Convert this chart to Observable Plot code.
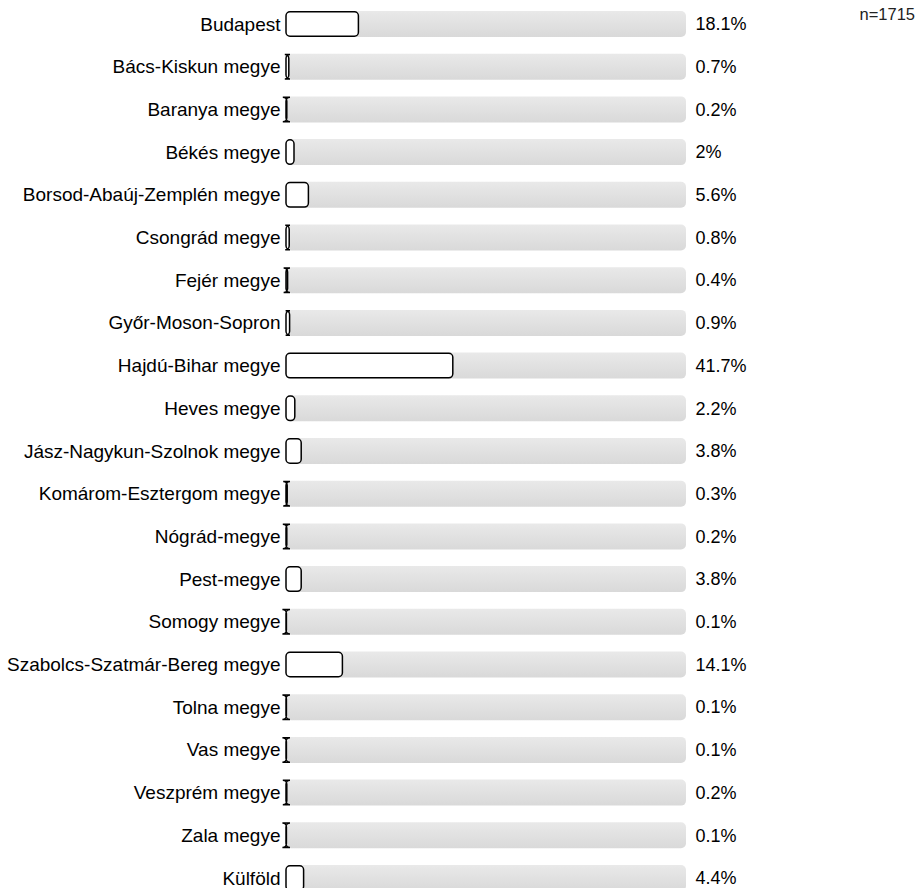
<!DOCTYPE html>
<html>
<head>
<meta charset="utf-8">
<script src="https://cdn.jsdelivr.net/npm/d3@7"></script>
<script src="https://cdn.jsdelivr.net/npm/@observablehq/plot@0.6"></script>
<style>
  html, body { margin: 0; padding: 0; background: #fff; }
  #wrap { position: relative; width: 915px; height: 888px; overflow: hidden; font-family: "Liberation Sans", Arial, sans-serif; }
  #n { position: absolute; right: 0px; top: 5px; font-size: 16.5px; color: #222; }
  svg { display: block; }
</style>
</head>
<body>
<div id="wrap"><div id="n">n=1715</div></div>
<script>
const categories = [
  "Budapest", "Bács-Kiskun megye", "Baranya megye", "Békés megye",
  "Borsod-Abaúj-Zemplén megye", "Csongrád megye", "Fejér megye", "Győr-Moson-Sopron",
  "Hajdú-Bihar megye", "Heves megye", "Jász-Nagykun-Szolnok megye", "Komárom-Esztergom megye",
  "Nógrád-megye", "Pest-megye", "Somogy megye", "Szabolcs-Szatmár-Bereg megye",
  "Tolna megye", "Vas megye", "Veszprém megye", "Zala megye", "Külföld"
];
const values = [18.1, 0.7, 0.2, 2, 5.6, 0.8, 0.4, 0.9, 41.7, 2.2, 3.8, 0.3, 0.2, 3.8, 0.1, 14.1, 0.1, 0.1, 0.2, 0.1, 4.4];
const sampleSize = 1715;

const data = categories.map((c, i) => ({category: c, value: values[i]}));

const step = 42.7;
const first = 24;
const yRange = [first - step / 2, first + step * (categories.length - 1) + step / 2];
const barH = 26;
const inset = (step - barH) / 2;

// Rounded bar drawn as a path through Plot's scales (keeps the I-beam look of tiny bars)
function roundedBars(index, scales, values, dimensions, context) {
  const x = scales.x, y = scales.y;
  const bw = y.bandwidth ? y.bandwidth() : step;
  const r = 4;
  const g = d3.create("svg:g");
  for (const d of data) {
    const x0 = x(0), x1 = x(d.value);
    const y0 = y(d.category) + inset + 0.75, y1 = y(d.category) + bw - inset - 0.75;
    const p = `M${x0 + r},${y0}H${x1 - r}A${r},${r} 0 0 1 ${x1},${y0 + r}V${y1 - r}A${r},${r} 0 0 1 ${x1 - r},${y1}H${x0 + r}A${r},${r} 0 0 1 ${x0},${y1 - r}V${y0 + r}A${r},${r} 0 0 1 ${x0 + r},${y0}Z`;
    g.append("path").attr("d", p).attr("fill", "#fff").attr("stroke", "#000").attr("stroke-width", 1.5);
  }
  return g.node();
}

const chart = Plot.plot({
  width: 915,
  height: 888,
  marginLeft: 286,
  marginRight: 229,
  marginTop: 0,
  marginBottom: 0,
  style: {fontFamily: "'Liberation Sans', Arial, sans-serif", fontSize: "19px", color: "#000", background: "#fff"},
  x: {domain: [0, 100], axis: null},
  y: {type: "band", domain: categories, range: yRange, padding: 0, round: false, label: null},
  marks: [
    Plot.axisY({tickSize: 0, tickPadding: 6, fontSize: 19, label: null}),
    Plot.barX(data, {y: "category", x1: 0, x2: 100, fill: "url(#trackGrad)", rx: 5, insetTop: inset, insetBottom: inset}),
    roundedBars,
    Plot.text(data, {y: "category", x: 100, text: d => d.value + "%", textAnchor: "start", dx: 9, fontSize: 18, fill: "#000"})
  ]
});

const svg = d3.select(chart);
const defs = svg.insert("defs", ":first-child");
const g = defs.append("linearGradient").attr("id", "trackGrad").attr("x1", 0).attr("y1", 0).attr("x2", 0).attr("y2", 1);
g.append("stop").attr("offset", "0%").attr("stop-color", "#e9e9e9");
g.append("stop").attr("offset", "100%").attr("stop-color", "#d9d9d9");

document.getElementById("n").textContent = "n=" + sampleSize;
document.getElementById("wrap").prepend(chart);
</script>
</body>
</html>
